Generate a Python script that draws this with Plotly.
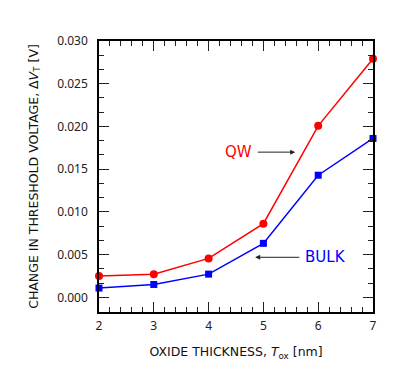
import plotly.graph_objects as go

tox = [2, 3, 4, 5, 6, 7]
qw = [0.0025, 0.00273, 0.00457, 0.00863, 0.02008, 0.02793]
bulk = [0.0011, 0.00152, 0.00273, 0.00633, 0.0143, 0.0186]

tfont = "Noto Sans, DejaVu Sans, sans-serif"
font = "DejaVu Sans, Verdana, sans-serif"

fig = go.Figure()
fig.add_trace(go.Scatter(x=tox, y=qw, mode="lines+markers", name="QW",
                         line=dict(color="#ff0000", width=1.5),
                         marker=dict(symbol="circle", size=8, color="#ff0000"),
                         cliponaxis=False))
fig.add_trace(go.Scatter(x=tox, y=bulk, mode="lines+markers", name="BULK",
                         line=dict(color="#0000ff", width=1.5),
                         marker=dict(symbol="square", size=7, color="#0000ff"),
                         cliponaxis=False))

axis_common = dict(showline=True, linecolor="black", linewidth=1.5, mirror="ticks",
                   ticks="inside", ticklen=10, tickwidth=1.2, tickcolor="#222",
                   showgrid=False, zeroline=False, automargin=False,
                   tickfont=dict(family=tfont, size=12, color="#222"))

fig.update_xaxes(range=[2, 7], dtick=1, tick0=2, ticklabelstandoff=2,
                 minor=dict(ticks="inside", ticklen=5, dtick=0.2, tickcolor="#222", tickwidth=1.2, showgrid=False),
                 title=dict(text="OXIDE THICKNESS, <i>T</i><sub>ox</sub> [nm]",
                            font=dict(family=font, size=12.5, color="#111"), standoff=14),
                 **axis_common)
fig.update_yaxes(range=[-0.0017, 0.030], dtick=0.005, tick0=0, tickformat=".3f",
                 ticklabelstandoff=7,
                 minor=dict(ticks="inside", ticklen=5, dtick=0.005/3, tick0=0, tickcolor="#222", tickwidth=1.2, showgrid=False),
                 title=dict(text="CHANGE IN THRESHOLD VOLTAGE, Δ<i>V</i><sub>T</sub> [V]",
                            font=dict(family=font, size=12.5, color="#111"), standoff=16),
                 **axis_common)

# label text sits at the arrow tail; arrow points to the tip
fig.add_annotation(x=5.58, y=0.017, ax=4.55, ay=0.017, xref="x", yref="y", axref="x", ayref="y",
                   text="QW", showarrow=True, arrowhead=2, arrowsize=1, arrowwidth=1, arrowcolor="#222",
                   borderpad=5, font=dict(family=font, size=15, color="#ff0000"))
fig.add_annotation(x=4.85, y=0.0047, ax=6.13, ay=0.0047, xref="x", yref="y", axref="x", ayref="y",
                   text="BULK", showarrow=True, arrowhead=2, arrowsize=1, arrowwidth=1, arrowcolor="#222",
                   borderpad=5, font=dict(family=font, size=15, color="#0000ff"))

fig.update_layout(width=401, height=368, margin=dict(l=91, r=36, t=33, b=64),
                  plot_bgcolor="white", paper_bgcolor="white", showlegend=False)

fig.write_html("out.html")
